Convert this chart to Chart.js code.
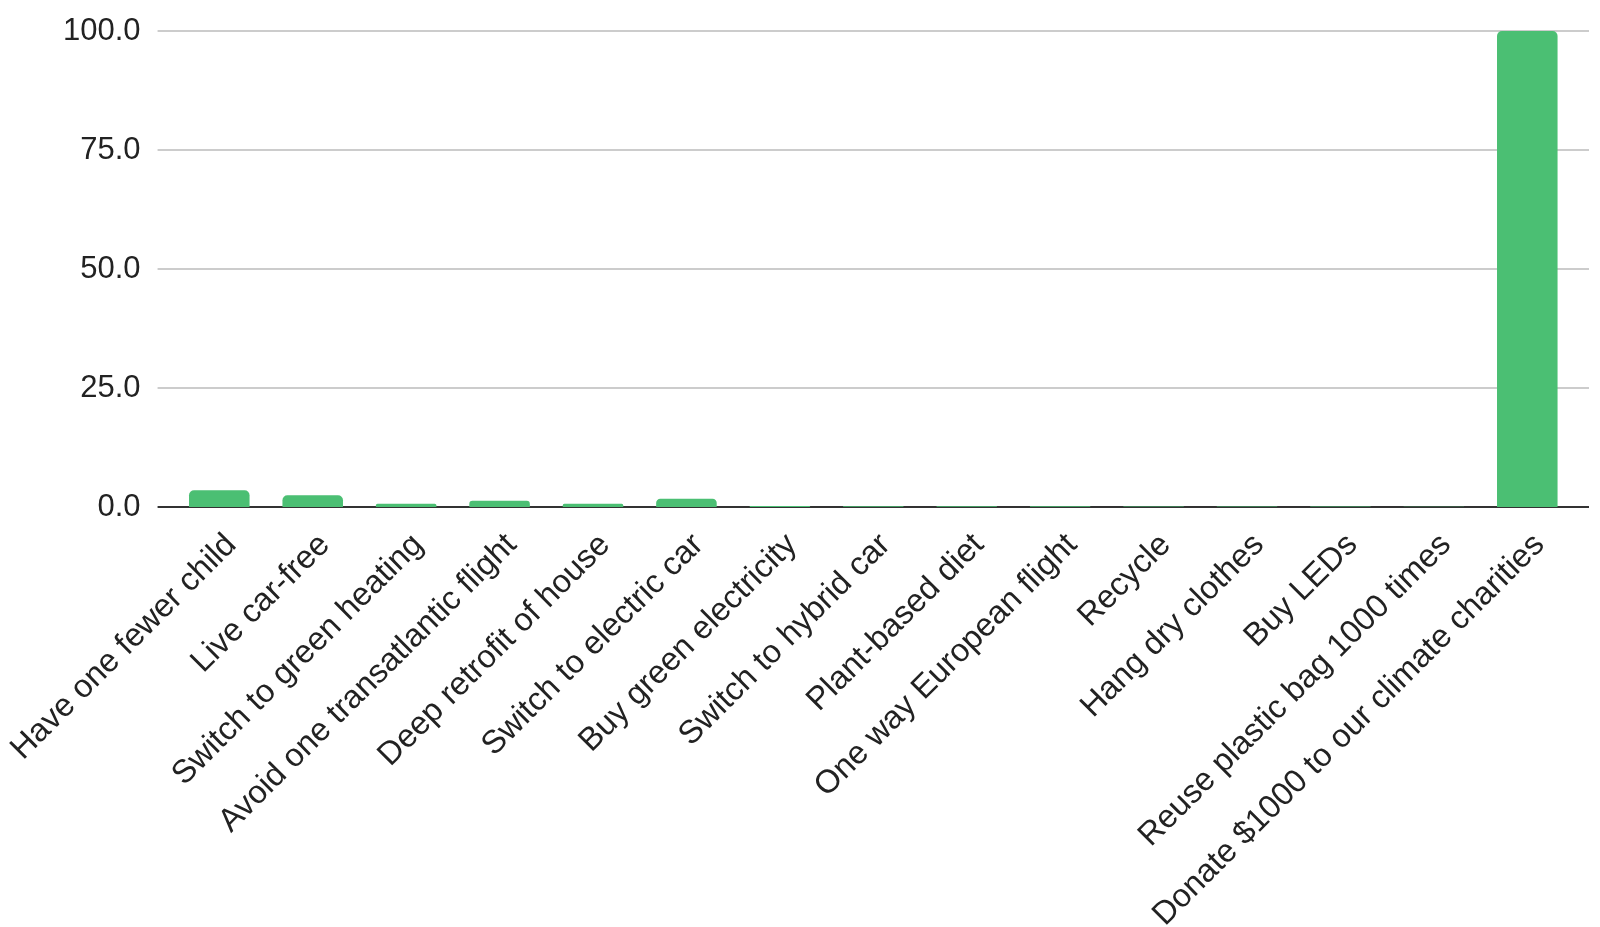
<!DOCTYPE html>
<html>
<head>
<meta charset="utf-8">
<script src="https://cdn.jsdelivr.net/npm/chart.js@4.4.1/dist/chart.umd.min.js"></script>
<style>
  html, body { margin: 0; padding: 0; background: #fff; }
  #wrap { width: 1600px; height: 927px; }
</style>
</head>
<body>
<div id="wrap"><canvas id="c"></canvas></div>
<script>
// categories and values (donate = 100)
const labels = [
  'Have one fewer child', 'Live car-free', 'Switch to green heating',
  'Avoid one transatlantic flight', 'Deep retrofit of house', 'Switch to electric car',
  'Buy green electricity', 'Switch to hybrid car', 'Plant-based diet',
  'One way European flight', 'Recycle', 'Hang dry clothes', 'Buy LEDs',
  'Reuse plastic bag 1000 times', 'Donate $1000 to our climate charities'
];
const values = [3.5, 2.45, 0.7, 1.3, 0.7, 1.75, 0.2, 0.15, 0.15, 0.15, 0.1, 0.1, 0.1, 0.05, 100];
const yTicks = [0, 25, 50, 75, 100];

Chart.defaults.font.family = '"Liberation Sans", Arial, sans-serif';
Chart.defaults.color = '#222';

// gridlines run a bit past the category area, like the original
const GRID_EXTRA = 15;
const gridPlugin = {
  id: 'grid',
  beforeDatasetsDraw(chart) {
    const { ctx, chartArea, scales } = chart;
    ctx.save();
    yTicks.forEach(v => {
      const y = scales.y.getPixelForValue(v);
      ctx.beginPath();
      ctx.lineWidth = 2;
      ctx.strokeStyle = v === 0 ? '#333333' : '#cccccc';
      ctx.moveTo(chartArea.left - GRID_EXTRA, y);
      ctx.lineTo(chartArea.right + GRID_EXTRA, y);
      ctx.stroke();
    });
    ctx.restore();
  }
};

new Chart(document.getElementById('c'), {
  type: 'bar',
  data: {
    labels: labels,
    datasets: [{
      data: values,
      backgroundColor: '#4bbf73',
      borderRadius: 5,
      borderSkipped: 'bottom',
      barPercentage: 0.9,
      categoryPercentage: 0.72
    }]
  },
  plugins: [gridPlugin],
  options: {
    responsive: true,
    maintainAspectRatio: false,
    animation: false,
    layout: { padding: { top: 31, right: 26, left: 31, bottom: 0 } },
    plugins: { legend: { display: false }, tooltip: { enabled: false } },
    scales: {
      x: {
        grid: { display: false, drawTicks: false },
        border: { display: false },
        afterFit: s => { s.paddingLeft = 0; s.paddingRight = 0; s.height = 420; },
        ticks: {
          font: { size: 32.5 },
          maxRotation: 45,
          minRotation: 45,
          autoSkip: false,
          padding: 19,
          labelOffset: 12
        }
      },
      y: {
        min: 0, max: 100,
        afterBuildTicks: axis => { axis.ticks = yTicks.map(v => ({ value: v })); },
        afterFit: s => { s.paddingTop = 0; s.paddingBottom = 0; },
        grid: { display: false, drawTicks: false },
        border: { display: false },
        ticks: {
          font: { size: 31 },
          padding: 32,
          callback: v => v.toFixed(1)
        }
      }
    }
  }
});
</script>
</body>
</html>
